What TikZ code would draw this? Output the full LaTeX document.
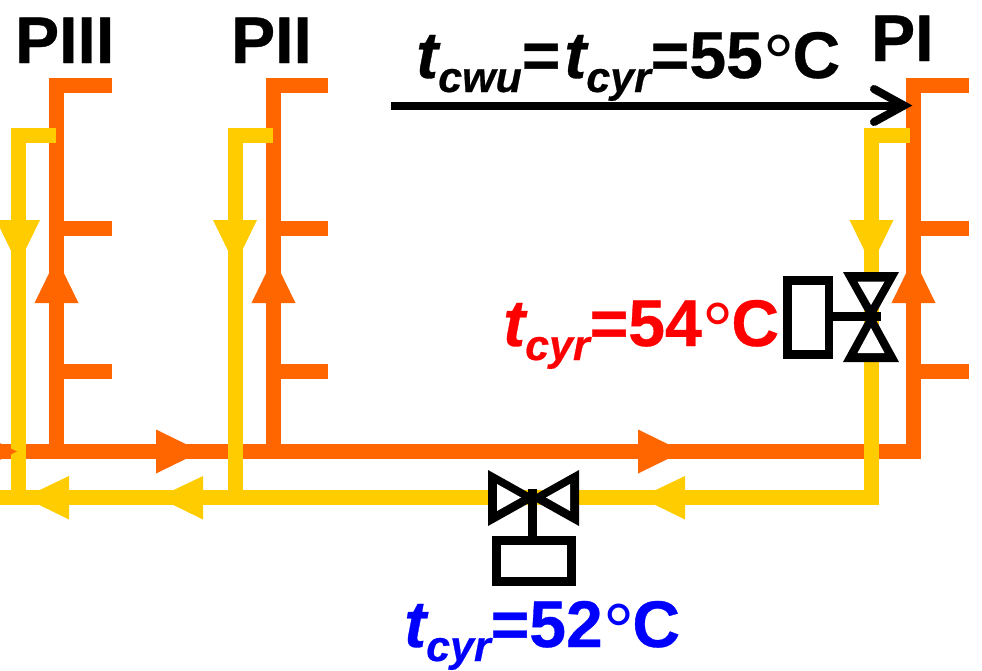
\documentclass[tikz,border=0pt]{standalone}
\usepackage{fontspec}
\setmainfont{Liberation Sans}[BoldFeatures={FakeBold=0.5},BoldItalicFeatures={FakeBold=0.5}]
\definecolor{hot}{RGB}{255,102,0}
\definecolor{cool}{RGB}{255,204,0}
\newcommand{\lbl}[2]{\fontsize{66}{66}\selectfont\bfseries\itshape t\raisebox{-14pt}{\fontsize{43}{43}\selectfont #1}\upshape #2}
\newcommand{\dgr}{\kern1pt\raisebox{-11pt}{\fontsize{78}{78}\selectfont\mdseries°}\kern-2.5pt}
\tikzset{
  pipehot/.style={draw=hot,line width=15pt,line join=miter},
  pipecool/.style={draw=cool,line width=15pt,line join=miter},
  tiphot/.style={fill=hot},
  tipcool/.style={fill=cool},
  blk/.style={fill=black},
  wht/.style={fill=white},
  txt/.style={inner sep=0pt,anchor=base west,font=\fontsize{66}{66}\selectfont\bfseries}
}
\begin{document}
\begin{tikzpicture}[x=1pt,y=-1pt]
\useasboundingbox (0,0) rectangle (982,670);
\clip (0,0) rectangle (982,670);
% orange pipes
\foreach \x/\e in {56.5/112,273.5/328,913.5/968.5}{
  \draw[pipehot] (\e,85.5) -- (\x,85.5) -- (\x,451.5);
  \draw[pipehot] (\x,228.5) -- (\e,228.5);
  \draw[pipehot] (\x,371.5) -- (\e,371.5);
  \fill[tiphot] (\x,258) -- (\x+22,303) -- (\x-22,303) -- cycle;
}
\draw[pipehot] (0,451.5) -- (920.5,451.5);
\foreach \x in {156,638}{\fill[tiphot] (\x,429.5) -- (\x+45,451.5) -- (\x,473.5) -- cycle;}
% yellow pipes
\foreach \x/\e in {18/56,235/273,871.5/909.5}{
  \draw[pipecool] (\e,135.5) -- (\x,135.5) -- (\x,497.5);
  \fill[tipcool] (\x-22,220) -- (\x+22,220) -- (\x,265) -- cycle;
}
\draw[pipecool] (0,497.5) -- (879,497.5);
\foreach \x in {69,203,685}{\fill[tipcool] (\x,476) -- (\x-45,497.5) -- (\x,519.5) -- cycle;}
\fill[tiphot] (-28,429.5) -- (17,451.5) -- (-28,473.5) -- cycle;
% right valve
\fill[blk] (843,272) -- (899,272) -- (871,322) -- cycle;
\fill[blk] (843,362) -- (899,362) -- (871,311) -- cycle;
\fill[wht] (857.5,281.5) -- (884.5,281.5) -- (871,305) -- cycle;
\fill[wht] (857.5,353) -- (884.5,353) -- (871,328) -- cycle;
\fill[blk] (833,312) rectangle (881,321);
\fill[blk] (783,276) rectangle (833,359);
\fill[wht] (792,285) rectangle (825,350);
% bottom valve
\fill[blk] (488,470) -- (488,526) -- (538,498) -- cycle;
\fill[blk] (579,470) -- (579,526) -- (529,498) -- cycle;
\fill[wht] (497,484) -- (497,511) -- (521,497.5) -- cycle;
\fill[wht] (570,484) -- (570,511) -- (546,497.5) -- cycle;
\fill[blk] (528,489) rectangle (537,536);
\fill[blk] (492,536) rectangle (576,586);
\fill[wht] (501,545) rectangle (567,577);
% black arrow
\coordinate (aS) at (391,105.5);
\coordinate (aE) at (904,105.5);
\draw[line width=8pt] (aS) -- (aE);
\draw[line width=8pt,line cap=round,line join=miter] (874,89) -- (904,105.5) -- (874,122);
% text
\node[txt] (p3) at (15,63) {PIII};
\node[txt] (p2) at (231,63) {PII};
\node[txt] (p1) at (871,61) {PI};
\node[txt] (t0) at (416,78) {\lbl{cwu}{=\kern4pt}\lbl{cyr}{=55\dgr C}};
\node[txt,text=red] (t1) at (503,346) {\lbl{cyr}{=54\dgr C}};
\node[txt,text=blue] (t2) at (404,647) {\lbl{cyr}{=52\dgr C}};
\end{tikzpicture}
\end{document}
